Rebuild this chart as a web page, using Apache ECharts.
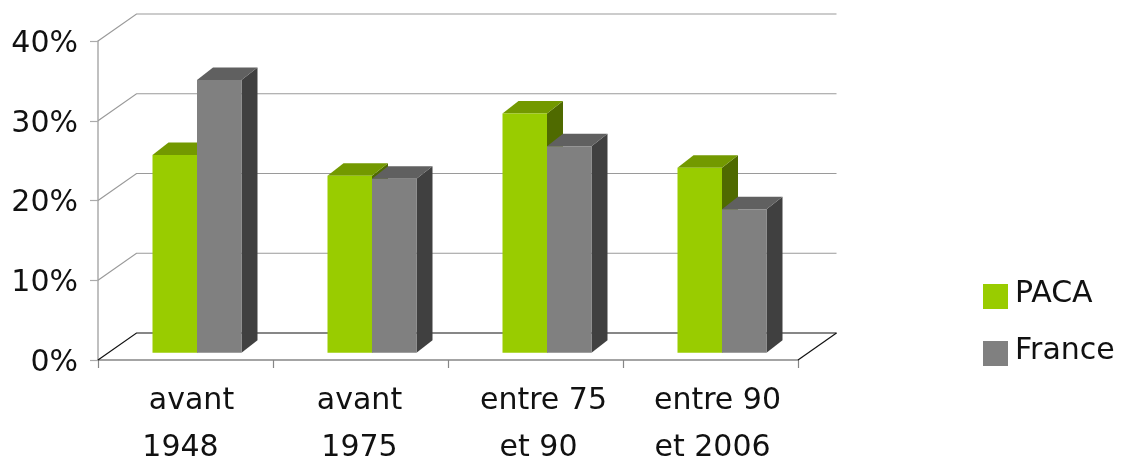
<!DOCTYPE html>
<html><head><meta charset="utf-8">
<style>html,body{margin:0;padding:0;background:#fff}#c{width:1126px;height:460px}</style>
<script src="https://cdn.jsdelivr.net/npm/echarts@6/dist/echarts.min.js"></script>
</head><body><div id="c"></div>
<script>
const categories = ['avant\n1948', 'avant\n1975', 'entre 75\net 90', 'entre 90\net 2006'];
const paca = [24.8, 22.2, 30.0, 23.2];
const france = [34.2, 21.8, 25.9, 18.0];
const yTicks = [0, 10, 20, 30, 40];
const FONT = '"DejaVu Sans"';
// horizontal nudges of each label line, px
const lineShift = [[6, -5], [-1, -1], [8, 3], [7, 2]];

const WALL = [38.5, -27], FLOOR = [11.5, -7.3], DEPTH = [16, -12.5], BAR = 44.5;
const rich = {};
lineShift.flat().forEach(s => {
  rich['s' + (s < 0 ? 'm' + (-s) : s)] = {
    fontFamily: FONT, fontSize: 30, color: '#111111', lineHeight: 47,
    padding: s >= 0 ? [0, 0, 0, 2 * s] : [0, -2 * s, 0, 0]
  };
});
function labelFmt(value, idx) {
  return value.split('\n').map((t, l) => {
    const s = lineShift[idx][l];
    return '{s' + (s < 0 ? 'm' + (-s) : s) + '|' + t + '}';
  }).join('\n');
}
function wallItem(params, api) {
  const v = api.value(1);
  const cs = params.coordSys;
  const y = api.coord([0, v])[1];
  const xL = cs.x, xR = cs.x + cs.width;
  const col = v === 0 ? '#111111' : '#9a9a9a';
  const kids = [{
    type: 'polyline',
    shape: { points: [[xL, y], [xL + WALL[0], y + WALL[1]], [xR + WALL[0], y + WALL[1]]] },
    style: { stroke: col, lineWidth: 1.2, fill: null }
  }];
  if (v === 0) kids.push({
    type: 'line',
    shape: { x1: xR, y1: y, x2: xR + WALL[0], y2: y + WALL[1] },
    style: { stroke: col, lineWidth: 1.2 }
  });
  return { type: 'group', children: kids };
}
function barItem(front, top, side, sign) {
  return function (params, api) {
    const i = api.value(0), v = api.value(1);
    const c = api.coord([i, v]), b = api.coord([i, 0]);
    const x0 = c[0] + FLOOR[0] + (sign < 0 ? -BAR : 0), x1 = x0 + BAR;
    const yT = c[1] + FLOOR[1], yB = b[1] + FLOOR[1];
    const dx = DEPTH[0], dy = DEPTH[1];
    return {
      type: 'group', children: [
        { type: 'polygon', shape: { points: [[x1, yT], [x1 + dx, yT + dy], [x1 + dx, yB + dy], [x1, yB]] }, style: { fill: side } },
        { type: 'polygon', shape: { points: [[x0, yT], [x0 + dx, yT + dy], [x1 + dx, yT + dy], [x1, yT]] }, style: { fill: top } },
        { type: 'rect', shape: { x: x0, y: yT, width: BAR, height: yB - yT }, style: { fill: front } }
      ]
    };
  };
}
const chart = echarts.init(document.getElementById('c'), null, { renderer: 'canvas' });
chart.setOption({
  animation: false,
  backgroundColor: '#ffffff',
  grid: { left: 98, top: 41, width: 700, height: 319, containLabel: false, outerBoundsMode: 'none' },
  xAxis: {
    type: 'category', data: categories,
    axisLine: { lineStyle: { color: '#868686', width: 1.5 } },
    axisTick: { show: true, length: 8, lineStyle: { color: '#868686', width: 1.2 } },
    axisLabel: { interval: 0, margin: 18, formatter: labelFmt, rich }
  },
  yAxis: {
    type: 'value', min: 0, max: 40, interval: 10,
    splitLine: { show: false },
    axisLine: { show: true, lineStyle: { color: '#ababab', width: 1.5 } },
    axisTick: { show: true, length: 8, lineStyle: { color: '#ababab', width: 1.2 } },
    axisLabel: { formatter: '{t|{value}%}', margin: 20,
      rich: { t: { fontFamily: FONT, fontSize: 30, color: '#111111', padding: [6, 0, 0, 0] } } }
  },
  legend: {
    orient: 'vertical', left: 983, top: 279, padding: 0, itemWidth: 25, itemHeight: 25, itemGap: 27,
    icon: 'rect', data: ['PACA', 'France'],
    formatter: '{t|{name}}',
    textStyle: { rich: { t: { fontFamily: FONT, fontSize: 30, color: '#111111', padding: [0, 0, 5, 2] } } }
  },
  series: [
    { type: 'custom', name: 'wall', silent: true, z: 1, clip: false, renderItem: wallItem,
      encode: { x: 0, y: 1 }, data: yTicks.map(v => [0, v]) },
    { type: 'custom', name: 'PACA', z: 2, clip: false, itemStyle: { color: '#99cc00' },
      renderItem: barItem('#99cc00', '#739900', '#4f6a00', -1),
      encode: { x: 0, y: 1 }, data: paca.map((v, i) => [i, v]) },
    { type: 'custom', name: 'France', z: 3, clip: false, itemStyle: { color: '#808080' },
      renderItem: barItem('#808080', '#606060', '#404040', 1),
      encode: { x: 0, y: 1 }, data: france.map((v, i) => [i, v]) }
  ]
});
</script></body></html>
